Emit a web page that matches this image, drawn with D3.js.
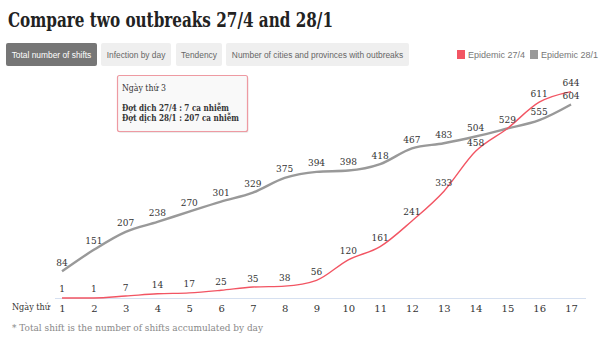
<!DOCTYPE html>
<html><head><meta charset="utf-8">
<script src="https://cdn.jsdelivr.net/npm/d3@7"></script>
<style>body{margin:0;background:#fff;} svg{display:block;}</style>
</head><body>
<svg id="c" width="600" height="341"></svg>
<script>
const days = d3.range(1, 18);
const epidemic274 = [1,1,7,14,17,25,35,38,56,120,161,241,333,458,529,611,644];
const epidemic281 = [84,151,207,238,270,301,329,375,394,398,418,467,483,504,529,555,604];
const buttons = ["Total number of shifts","Infection by day","Tendency","Number of cities and provinces with outbreaks"];
const legendLabels = ["Epidemic 27/4","Epidemic 28/1"];
const colors = ["#f25563","#999999"];
const tooltipLines = ["Ngày thứ 3","Đợt dịch 27/4 : 7 ca nhiễm","Đợt dịch 28/1 : 207 ca nhiễm"];

const svg = d3.select("#c");
const serif = "'DejaVu Serif', 'Liberation Serif', serif";
const sans = "'Liberation Sans', Arial, sans-serif";

// title
svg.append("text").attr("x",8).attr("y",27)
  .attr("font-family",serif).attr("font-weight","bold").attr("font-size",20)
  .attr("fill","#222").attr("textLength",325).attr("lengthAdjust","spacingAndGlyphs")
  .text("Compare two outbreaks 27/4 and 28/1");

// buttons
const btnX = [6,101,176,226], btnW = [91,70,46,183];
buttons.forEach((b,i)=>{
  svg.append("rect").attr("x",btnX[i]).attr("y",43).attr("width",btnW[i]).attr("height",23)
    .attr("rx",2).attr("fill", i===0 ? "#767676" : "#efefef");
  svg.append("text").attr("x",btnX[i]+btnW[i]/2).attr("y",57.5).attr("text-anchor","middle")
    .attr("font-family",sans).attr("font-size",8.4)
    .attr("fill", i===0 ? "#fff" : "#666").text(b);
});

// legend
const legX = [457,530];
legendLabels.forEach((l,i)=>{
  svg.append("rect").attr("x",legX[i]).attr("y",50).attr("width",8).attr("height",9).attr("fill",colors[i]);
  svg.append("text").attr("x",legX[i]+11).attr("y",58).attr("font-family",sans).attr("font-size",9)
    .attr("fill","#777").text(l);
});

// scales
const x = d3.scaleLinear().domain([1,17]).range([62,571]);
const y = d3.scaleLinear().domain([0,700]).range([298.3,73.6]);

// axis line
svg.append("line").attr("x1",55).attr("x2",586).attr("y1",298.5).attr("y2",298.5)
  .attr("stroke","#d6e0f0").attr("stroke-width",1);

const xAxis = d3.axisBottom(x).tickValues(days).tickSize(0).tickPadding(6).tickFormat(d3.format("d"));
const gx = svg.append("g").attr("transform","translate(0,299)").call(xAxis);
gx.select(".domain").remove();
gx.selectAll("text").attr("font-family",serif).attr("font-size",10).attr("fill","#333");

svg.append("text").attr("x",12).attr("y",309.5).attr("font-family",serif).attr("font-size",10)
  .attr("fill","#333").attr("textLength",38).attr("lengthAdjust","spacingAndGlyphs").text("Ngày thứ");

// lines
const line = d3.line().x((d,i)=>x(days[i])).y(d=>y(d)).curve(d3.curveMonotoneX);
[epidemic281, epidemic274].forEach((s,k)=>{
  svg.append("path").datum(s).attr("d",line).attr("fill","none")
    .attr("stroke", k===0 ? colors[1] : colors[0]).attr("stroke-width", k===0 ? 2.4 : 1.4);
});

// labels (skip duplicate label where both series coincide)
[epidemic281, epidemic274].forEach((s,k)=>{
  const items = s.map((v,i)=>({v,i})).filter(o => k===0 || o.v !== epidemic281[o.i]);
  svg.append("g").selectAll("text").data(items).join("text")
    .attr("x",o=>x(days[o.i])).attr("y",o=>y(o.v)-5.5).attr("text-anchor","middle")
    .attr("font-family",serif).attr("font-size",9).attr("fill","#333").text(o=>o.v);
});

// tooltip
const tt = svg.append("g");
tt.append("rect").attr("x",117.5).attr("y",75.5).attr("width",130).attr("height",56)
  .attr("fill","#000").attr("opacity",0.08).attr("transform","translate(1,1.5)").attr("rx",2);
tt.append("rect").attr("x",117.5).attr("y",75.5).attr("width",130).attr("height",56).attr("rx",2)
  .attr("fill","#f9f9f9").attr("stroke","#ee9aa2").attr("stroke-width",1.2);
tt.append("text").attr("x",122).attr("y",91).attr("font-family",serif).attr("font-size",8.5)
  .attr("fill","#333").attr("textLength",44).attr("lengthAdjust","spacingAndGlyphs").text(tooltipLines[0]);
tt.append("text").attr("x",122).attr("y",111).attr("font-family",serif).attr("font-size",8.5)
  .attr("font-weight","bold").attr("fill","#333").attr("textLength",107).attr("lengthAdjust","spacingAndGlyphs").text(tooltipLines[1]);
tt.append("text").attr("x",122).attr("y",121).attr("font-family",serif).attr("font-size",8.5)
  .attr("font-weight","bold").attr("fill","#333").attr("textLength",117).attr("lengthAdjust","spacingAndGlyphs").text(tooltipLines[2]);

// footnote
svg.append("text").attr("x",12).attr("y",331).attr("font-family",serif).attr("font-size",10)
  .attr("fill","#888").attr("textLength",251).attr("lengthAdjust","spacingAndGlyphs")
  .text("* Total shift is the number of shifts accumulated by day");
</script>
</body></html>
